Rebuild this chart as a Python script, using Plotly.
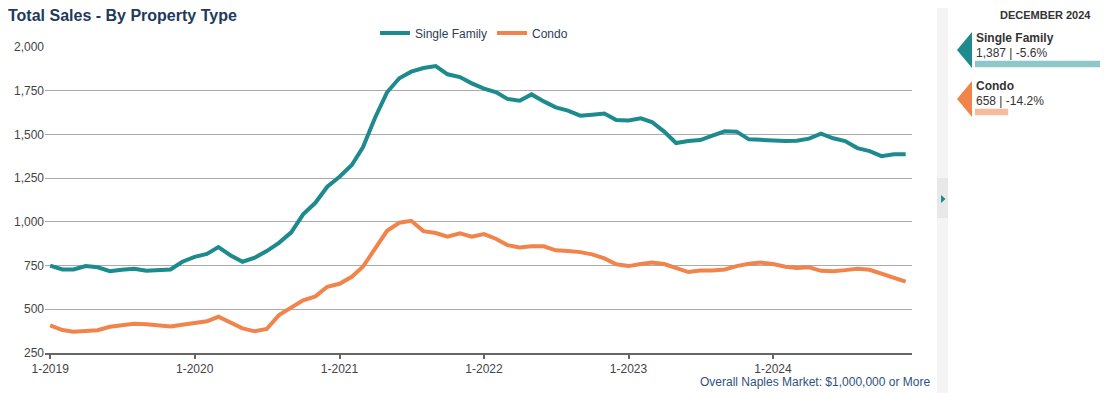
import pandas as pd
import plotly.graph_objects as go

W, H = 1108, 393

months = pd.date_range("2019-01-01", periods=72, freq="MS")

single_family = [750, 728, 728, 747, 740, 718, 726, 732, 720, 724, 728, 772,
                 800, 817, 856, 808, 772, 795, 833, 880, 940, 1043, 1109, 1201,
                 1258, 1325, 1426, 1597, 1741, 1821, 1859, 1880, 1891, 1844, 1828, 1792,
                 1762, 1741, 1703, 1693, 1729, 1689, 1655, 1636, 1607, 1613, 1620, 1582,
                 1580, 1592, 1571, 1516, 1451, 1462, 1468, 1493, 1518, 1516, 1472, 1469,
                 1464, 1462, 1464, 1476, 1504, 1478, 1462, 1422, 1405, 1376, 1386, 1387]

condo = [408, 381, 371, 377, 380, 400, 410, 417, 415, 409, 402, 412,
         421, 431, 457, 425, 391, 374, 387, 467, 509, 551, 574, 629,
         646, 686, 743, 848, 949, 995, 1006, 947, 936, 915, 934, 915,
         930, 902, 867, 854, 860, 860, 837, 833, 827, 814, 791, 757,
         747, 759, 768, 759, 736, 713, 722, 722, 728, 747, 760, 767,
         759, 743, 736, 740, 720, 718, 724, 732, 726, 703, 678, 658]

series_names = ["Single Family", "Condo"]
series_values = [single_family, condo]
yoy_change = ["-5.6%", "-14.2%"]
panel_title = "DECEMBER 2024"
tick_years = [2019, 2020, 2021, 2022, 2023, 2024]
tick_labels = [f"1-{y}" for y in tick_years]
y_ticks = [250, 500, 750, 1000, 1250, 1500, 1750, 2000]

colors = ["#1d8a8d", "#f0844b"]
light_colors = ["#8dc7c8", "#f7bb9b"]
FONT = "Liberation Sans, Arial, sans-serif"

# The page body adds an 8px offset; geometry below is given in screenshot pixels.
OFF = 8
ML, MR, MT, MB = 45 - OFF, 0, 0, H - (353 - OFF)
PW, PH = W - ML - MR, H - MT - MB


def px_x(x):
    return (x - OFF - ML) / PW


def px_y(y):
    return (H - MB - (y - OFF)) / PH


fig = go.Figure()
for name, vals, col in zip(series_names, series_values, colors):
    fig.add_trace(go.Scatter(x=months, y=vals, name=name, mode="lines",
                             line=dict(color=col, width=4),
                             xaxis="x", yaxis="y"))

# side panel bars (latest values)
latest = [v[-1] for v in series_values]
fig.add_trace(go.Bar(x=latest, y=[0, 1], orientation="h", base=0,
                     marker=dict(color=light_colors, line=dict(width=0)),
                     width=0.14, showlegend=False, hoverinfo="skip",
                     xaxis="x2", yaxis="y2"))

fig.update_layout(
    width=W, height=H,
    margin=dict(l=ML, r=MR, t=MT, b=MB, autoexpand=False),
    paper_bgcolor="white", plot_bgcolor="white",
    font=dict(family=FONT, size=12, color="#444"),
    title=dict(text="<b>Total Sales - By Property Type</b>", xref="container", yref="container",
               x=0.0, xanchor="left", y=1 - 7 / H, yanchor="middle", automargin=False,
               pad=dict(l=0, r=0, t=0, b=0),
               font=dict(size=16, color="#1f3a5c", family=FONT)),
    showlegend=True,
    legend=dict(orientation="h", x=px_x(375), xanchor="left", y=px_y(33), yanchor="middle",
                font=dict(size=12, color="#2d3e55"), bgcolor="rgba(0,0,0,0)",
                traceorder="normal", itemwidth=30),
    xaxis=dict(domain=[0, px_x(912)], type="date", automargin=False,
               range=["2018-12-19", "2024-12-17"],
               tickvals=[f"{y}-01-01" for y in tick_years], ticktext=tick_labels,
               showgrid=False, zeroline=False, showline=True, linecolor="#666", linewidth=2,
               ticks="outside", ticklen=4, tickwidth=2, tickcolor="#666",
               tickfont=dict(size=12, color="#444")),
    yaxis=dict(domain=[0, px_y(47)], range=[250, 2000], tickvals=y_ticks, tickformat=",",
               automargin=False,
               showgrid=True, gridcolor="#aaaaaa", gridwidth=1, zeroline=False,
               showline=False, ticks="",
               tickfont=dict(size=12, color="#444")),
    xaxis2=dict(domain=[px_x(975), 1.0], range=[436, 1380], visible=False, fixedrange=True,
                anchor="y2", automargin=False),
    yaxis2=dict(domain=[px_y(136), px_y(40)], range=[1.5, -0.5], visible=False, fixedrange=True,
                anchor="x2", automargin=False),
)

shapes = []
# separator strip
shapes.append(dict(type="rect", xref="paper", yref="paper", x0=px_x(937), x1=px_x(948),
                   y0=px_y(H + OFF), y1=px_y(5), fillcolor="#f4f4f4", line=dict(width=0), layer="below"))
shapes.append(dict(type="rect", xref="paper", yref="paper", x0=px_x(937), x1=px_x(948),
                   y0=px_y(218), y1=px_y(178), fillcolor="#e8e8e8", line=dict(width=0), layer="below"))
shapes.append(dict(type="path", xref="paper", yref="paper",
                   path=f"M {px_x(941)},{px_y(195)} L {px_x(945.5)},{px_y(199)} L {px_x(941)},{px_y(203)} Z",
                   fillcolor=colors[0], line=dict(width=0)))
# panel arrows
for i, col in enumerate(colors):
    top = 32 + i * 49
    shapes.append(dict(type="path", xref="paper", yref="paper",
                       path=f"M {px_x(957)},{px_y(top + 18)} L {px_x(972)},{px_y(top)} "
                            f"L {px_x(972)},{px_y(top + 36)} Z",
                       fillcolor=col, line=dict(width=0)))

annotations = [
    dict(text="Overall Naples Market: $1,000,000 or More", xref="paper", yref="paper",
         x=px_x(932), y=px_y(382), xanchor="right", yanchor="middle", showarrow=False,
         font=dict(size=12, color="#2c5282")),
    dict(text=f"<b>{panel_title}</b>", xref="paper", yref="paper", x=px_x(1045), y=px_y(15),
         xanchor="center", yanchor="middle", showarrow=False,
         font=dict(size=11, color="#333")),
]
for i, (name, vals, chg) in enumerate(zip(series_names, series_values, yoy_change)):
    base = 38 + i * 48
    annotations.append(dict(text=f"<b>{name}</b>", xref="paper", yref="paper",
                            x=px_x(974), y=px_y(base), xanchor="left", yanchor="middle",
                            showarrow=False, font=dict(size=12, color="#333")))
    annotations.append(dict(text=f"{vals[-1]:,} | {chg}", xref="paper", yref="paper",
                            x=px_x(974), y=px_y(base + 15), xanchor="left", yanchor="middle",
                            showarrow=False, font=dict(size=12, color="#333")))

fig.update_layout(shapes=shapes, annotations=annotations)

fig.write_html("out.html")
